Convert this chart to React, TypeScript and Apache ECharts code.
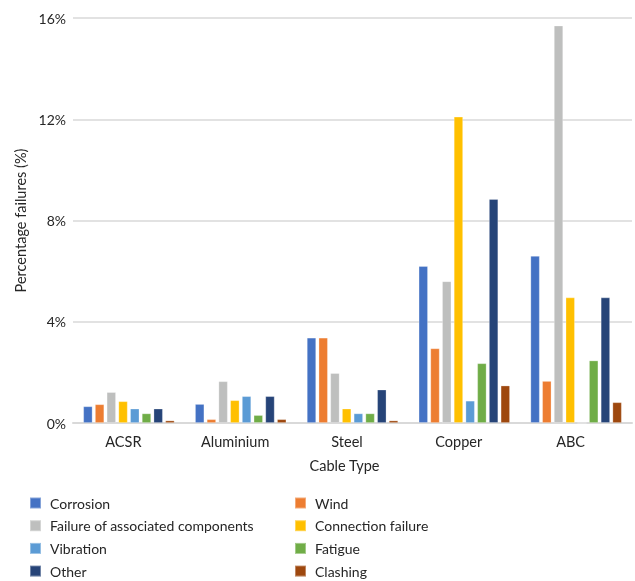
import React, { useEffect, useRef } from "react";
import * as echarts from "echarts";

const cableTypes = ["ACSR", "Aluminium", "Steel", "Copper", "ABC"];

// Percentage of failures by cause, per cable type (ACSR, Aluminium, Steel, Copper, ABC)
const corrosion = [0.66, 0.75, 3.37, 6.2, 6.6];
const wind = [0.74, 0.15, 3.37, 2.95, 1.66];
const associatedComponents = [1.22, 1.65, 1.97, 5.6, 15.7];
const connectionFailure = [0.86, 0.9, 0.57, 12.1, 4.96];
const vibration = [0.57, 1.06, 0.38, 0.88, 0];
const fatigue = [0.38, 0.31, 0.38, 2.36, 2.47];
const other = [0.57, 1.06, 1.32, 8.85, 4.96];
const clashing = [0.1, 0.15, 0.1, 1.48, 0.82];

const yTicks = [0, 4, 8, 12, 16];

const seriesDefs = [
  { name: "Corrosion", data: corrosion, color: "#4472C4" },
  { name: "Wind", data: wind, color: "#ED7D31" },
  { name: "Failure of associated components", data: associatedComponents, color: "#BEBFBE" },
  { name: "Connection failure", data: connectionFailure, color: "#FFC000" },
  { name: "Vibration", data: vibration, color: "#5B9BD5" },
  { name: "Fatigue", data: fatigue, color: "#70AD47" },
  { name: "Other", data: other, color: "#264478" },
  { name: "Clashing", data: clashing, color: "#9E480E" },
];

const FONT = "Lato, 'Noto Sans', sans-serif";
const TEXT = "#262626";

export default function App() {
  const ref = useRef<HTMLDivElement>(null);

  useEffect(() => {
    if (!ref.current) return;
    const chart = echarts.init(ref.current, null, { renderer: "svg" });

    const legendBase = {
      orient: "vertical" as const,
      top: 496,
      padding: 0,
      itemWidth: 11,
      itemHeight: 11,
      itemGap: 8.7,
      icon: "rect",
      textStyle: {
        fontFamily: FONT,
        fontSize: 14,
        color: TEXT,
        padding: [0, 0, 0, 4],
      },
    };

    chart.setOption({
      animation: false,
      textStyle: { fontFamily: FONT },
      grid: { left: 73, right: 3, top: 18, bottom: 158 },
      legend: [
        {
          ...legendBase,
          left: 29,
          data: ["Corrosion", "Failure of associated components", "Vibration", "Other"],
        },
        {
          ...legendBase,
          left: 294,
          data: ["Wind", "Connection failure", "Fatigue", "Clashing"],
        },
      ],
      xAxis: {
        type: "category",
        data: cableTypes,
        name: "Cable Type",
        nameLocation: "middle",
        nameGap: 35,
        nameTextStyle: {
          fontFamily: FONT,
          fontSize: 14.5,
          color: TEXT,
          padding: [0, 16, 0, 0],
        },
        axisLine: { lineStyle: { color: "#D9D9D9", width: 2 } },
        axisTick: { show: false },
        axisLabel: {
          interval: 0,
          fontFamily: FONT,
          fontSize: 14.5,
          color: TEXT,
          margin: 11,
          // labels sit a little left of the bar-group centres
          formatter: (v: string) => `{t|${v}}{s|}`,
          rich: {
            t: { fontFamily: FONT, fontSize: 14.5, color: TEXT },
            s: { width: 11 },
          },
        },
      },
      yAxis: {
        type: "value",
        min: yTicks[0],
        max: yTicks[yTicks.length - 1],
        interval: 4,
        name: "Percentage failures (%)",
        nameLocation: "middle",
        nameGap: 42,
        nameTextStyle: { fontFamily: FONT, fontSize: 14.5, color: TEXT },
        axisLine: { show: false },
        axisTick: { show: false },
        axisLabel: {
          fontFamily: FONT,
          fontSize: 14,
          color: TEXT,
          margin: 7,
          formatter: (v: number) => `${v}%`,
        },
        splitLine: { lineStyle: { color: "#D9D9D9", width: 1.5 } },
      },
      series: seriesDefs.map((s) => ({
        type: "bar",
        name: s.name,
        data: s.data,
        barWidth: 9.3,
        barGap: "26%",
        itemStyle: {
          color: s.color,
          borderColor: "rgba(255,255,255,0.35)",
          borderWidth: 0.8,
        },
      })),
    });

    return () => chart.dispose();
  }, []);

  return (
    <div
      ref={ref}
      style={{ position: "fixed", left: 0, top: 0, width: 635, height: 581 }}
    />
  );
}
